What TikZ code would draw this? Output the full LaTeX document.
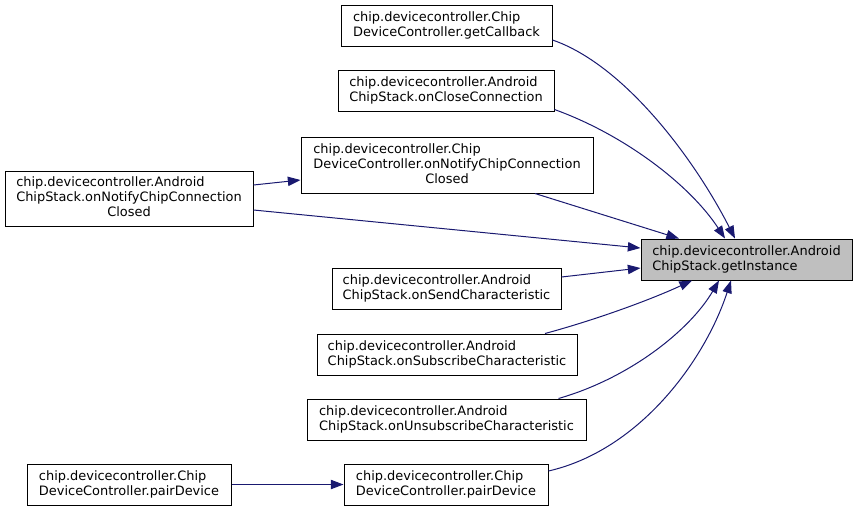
\documentclass[tikz,border=0pt]{standalone}
\usepackage{fontspec}
\setmainfont{DejaVu Sans}
\usetikzlibrary{arrows.meta,calc}
\definecolor{edgeblue}{HTML}{191970}
\definecolor{hlgray}{HTML}{BFBFBF}
\newcommand\twolines[2]{\begin{tabular}{@{}l@{}}#1\\#2\end{tabular}}
\newcommand\threelines[3]{\begin{tabular}{@{}l@{}}#1\\#2\\\multicolumn{1}{@{}c@{}}{#3}\end{tabular}}
\begin{document}
\begin{tikzpicture}[x=0.75pt,y=-0.75pt,
  fnbox/.style={draw=black, line width=0.75pt, inner sep=0pt, fill=white,
    font=\fontsize{9.7}{11.25}\selectfont, minimum height=30.75pt},
  wd/.style={minimum width=#1*0.75pt},
  hgt/.style={minimum height=#1*0.75pt},
  calledge/.style={draw=edgeblue, line width=0.75pt,
    -{Triangle[length=9.5pt,width=7pt]}}
]
\useasboundingbox (0,0) rectangle (856,511);

\node[fnbox, wd=211, fill=hlgray] (T) at (746.5,259.5)
  {\twolines{chip.devicecontroller.Android}{ChipStack.getInstance}};
\node[fnbox, wd=211] (G) at (446.5,25.5)
  {\twolines{chip.devicecontroller.Chip}{DeviceController.getCallback}};
\node[fnbox, wd=216] (C) at (446,90.5)
  {\twolines{chip.devicecontroller.Android}{ChipStack.onCloseConnection}};
\node[fnbox, wd=292, hgt=56] (N) at (447,165)
  {\threelines{chip.devicecontroller.Chip}{DeviceController.onNotifyChipConnection}{Closed}};
\node[fnbox, wd=248, hgt=55] (L) at (129,198.5)
  {\threelines{chip.devicecontroller.Android}{ChipStack.onNotifyChipConnection}{Closed}};
\node[fnbox, wd=229] (S) at (446.5,288.5)
  {\twolines{chip.devicecontroller.Android}{ChipStack.onSendCharacteristic}};
\node[fnbox, wd=260] (Sub) at (447,354.5)
  {\twolines{chip.devicecontroller.Android}{ChipStack.onSubscribeCharacteristic}};
\node[fnbox, wd=279] (U) at (446.5,419.5)
  {\twolines{chip.devicecontroller.Android}{ChipStack.onUnsubscribeCharacteristic}};
\node[fnbox, wd=204] (P) at (446,484.5)
  {\twolines{chip.devicecontroller.Chip}{DeviceController.pairDevice}};
\node[fnbox, wd=204] (PL) at (129,484.5)
  {\twolines{chip.devicecontroller.Chip}{DeviceController.pairDevice}};

\draw[calledge] ($(G.east)+(0,14.5)$) .. controls (625,65) and (695,160) .. ($(T.north)+(-11.5,0)$);
\draw[calledge] ($(C.east)+(0,19)$) .. controls (625,135) and (690,185) .. ($(T.north)+(-21.5,0)$);
\draw[calledge] ($(N.south)+(88,0)$) -- ($(T.north)+(-67.5,0)$);
\draw[calledge] ($(L.east)+(0,-13.5)$) -- ($(N.west)+(0,15)$);
\draw[calledge] ($(L.east)+(0,11.5)$) -- ($(T.west)+(0,-11.5)$);
\draw[calledge] ($(S.east)+(0,-11.5)$) -- ($(T.west)+(0,8.5)$);
\draw[calledge] ($(Sub.north)+(98,0)$) .. controls (595,320) and (650,300) .. ($(T.south)+(-54.5,0)$);
\draw[calledge] ($(U.north)+(112,0)$) .. controls (630,378) and (690,330) .. ($(T.south)+(-27.5,0)$);
\draw[calledge] ($(P.east)+(0,-13.5)$) .. controls (640,450) and (705,360) .. ($(T.south)+(-15.5,0)$);
\draw[calledge] (PL.east) -- (P.west);
\end{tikzpicture}
\end{document}
